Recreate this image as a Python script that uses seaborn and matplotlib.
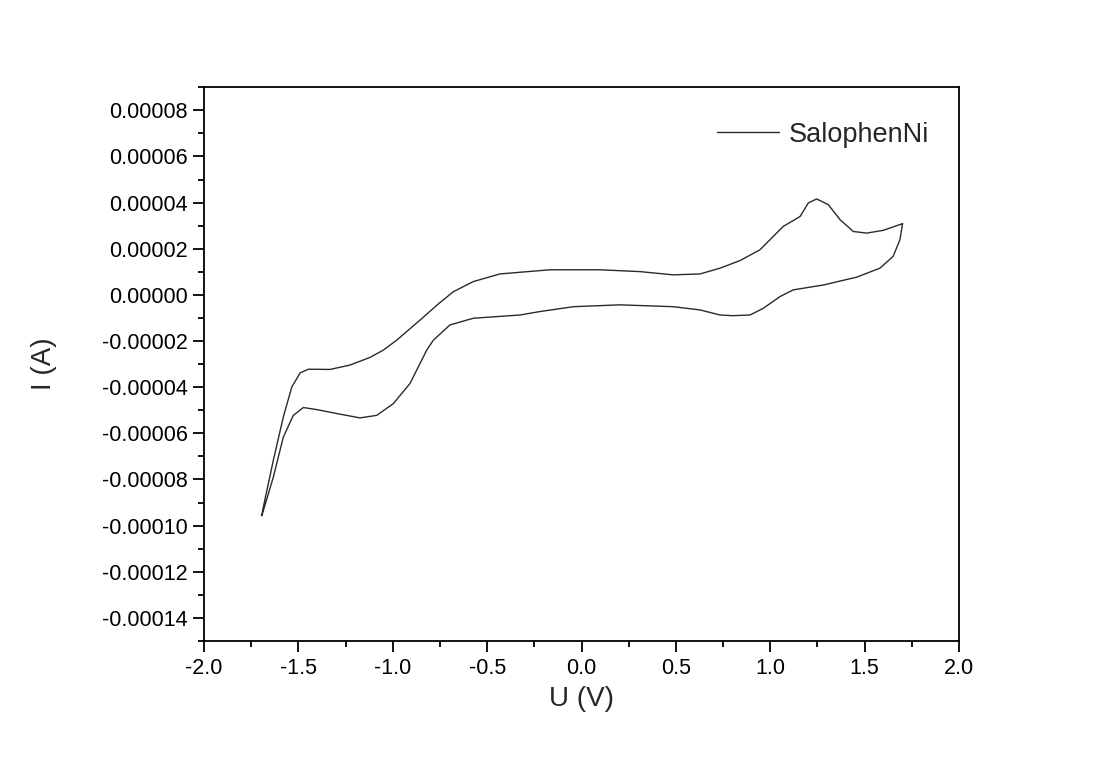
import matplotlib
matplotlib.use("Agg")
import matplotlib.pyplot as plt
import seaborn as sns
import pandas as pd
from matplotlib.ticker import MultipleLocator, FuncFormatter

# Cyclic voltammogram: one closed loop, ordered along the scan
potential_V = [
    1.701, 1.687, 1.651, 1.581, 1.458, 1.281, 1.122, 1.052, 0.963,
    0.893, 0.800, 0.734, 0.628, 0.486, 0.204, -0.043, -0.220, -0.326, -0.450,
    -0.573, -0.697, -0.785, -0.820, -0.909, -0.997, -1.085, -1.174, -1.297,
    -1.403, -1.474, -1.527, -1.580, -1.633, -1.694,
    -1.686, -1.633, -1.580, -1.535, -1.491, -1.447, -1.332, -1.227, -1.121,
    -1.050, -0.979, -0.850, -0.760, -0.679, -0.573, -0.432, -0.167, 0.098,
    0.310, 0.486, 0.628, 0.734, 0.840, 0.946, 1.069, 1.158, 1.202, 1.246,
    1.308, 1.370, 1.440, 1.511, 1.599, 1.701,
]
current_A = [
    3.09e-5, 2.39e-5, 1.67e-5, 1.16e-5, 7.7e-6, 4.3e-6, 2.2e-6, -7e-7, -5.8e-6,
    -8.7e-6, -9.0e-6, -8.7e-6, -6.5e-6, -5.1e-6, -4.3e-6, -5.1e-6, -7.2e-6, -8.7e-6, -9.4e-6,
    -1.01e-5, -1.30e-5, -1.96e-5, -2.39e-5, -3.84e-5, -4.71e-5, -5.22e-5, -5.33e-5, -5.14e-5,
    -4.97e-5, -4.88e-5, -5.22e-5, -6.16e-5, -7.9e-5, -9.57e-5,
    -9.2e-5, -7.17e-5, -5.29e-5, -3.99e-5, -3.38e-5, -3.22e-5, -3.23e-5, -3.04e-5, -2.71e-5,
    -2.39e-5, -1.96e-5, -1.05e-5, -4.0e-6, 1.4e-6, 5.8e-6, 9.1e-6, 1.09e-5, 1.09e-5,
    1.01e-5, 8.7e-6, 9.1e-6, 1.16e-5, 1.49e-5, 1.96e-5, 2.97e-5, 3.4e-5, 3.99e-5, 4.16e-5,
    3.91e-5, 3.26e-5, 2.75e-5, 2.68e-5, 2.8e-5, 3.09e-5,
]
series_name = "SalophenNi"

df = pd.DataFrame({"U (V)": potential_V, "I (A)": current_A, "series": series_name})

sns.set_theme(style="ticks")
plt.rcParams["font.family"] = ["Liberation Sans", "DejaVu Sans"]

fig = plt.figure(figsize=(11.12, 7.65), dpi=100)
ax = fig.add_axes([0.1835, 0.1621, 0.8624 - 0.1835, 0.8859 - 0.1621])

sns.lineplot(data=df, x="U (V)", y="I (A)", hue="series", sort=False,
             estimator=None, palette=["#2a2a2a"], linewidth=1.0, ax=ax)

ax.set_xlim(-2.0, 2.0)
ax.set_ylim(-0.00015, 0.00009)
ax.xaxis.set_major_locator(MultipleLocator(0.5))
ax.xaxis.set_minor_locator(MultipleLocator(0.25))
ax.set_yticks([round(v * 1e-5, 7) for v in range(-14, 9, 2)])
ax.yaxis.set_minor_locator(MultipleLocator(0.00001))
ax.yaxis.set_major_formatter(FuncFormatter(lambda v, p: f"{round(v, 7):.5f}".replace("-0.00000", "0.00000")))
ax.xaxis.set_major_formatter(FuncFormatter(lambda v, p: f"{v:.1f}"))

for s in ax.spines.values():
    s.set_visible(True)
    s.set_linewidth(1.3)
    s.set_color("black")
ax.tick_params(which="major", direction="out", length=8, width=1.3, labelsize=15.5,
               colors="black", pad=4)
ax.tick_params(which="minor", direction="out", length=4.5, width=1.3, colors="black")
ax.tick_params(top=False, right=False, which="both")

ax.set_xlabel("U (V)", fontsize=20, labelpad=5)
ax.set_ylabel("I (A)", fontsize=20, labelpad=32)

leg = ax.legend(loc="upper right", frameon=False, fontsize=19.5, handlelength=2.3,
                handletextpad=0.35, bbox_to_anchor=(0.975, 0.957), borderaxespad=0.0)

fig.savefig("out.png", dpi=100, facecolor="white")
